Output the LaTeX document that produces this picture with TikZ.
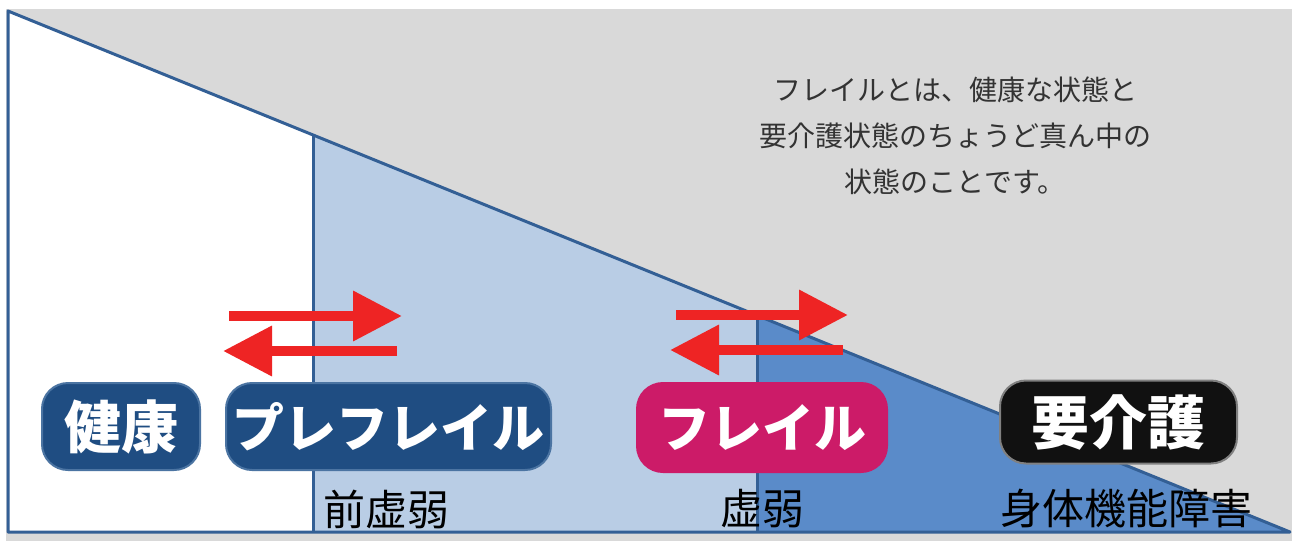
\documentclass[tikz,border=0pt]{standalone}
\usepackage{fontspec}
\usetikzlibrary{arrows.meta}
\newfontfamily\jp{Noto Sans CJK JP}
\definecolor{bggray}{HTML}{D9D9D9}
\definecolor{lightblue}{HTML}{B9CDE5}
\definecolor{midblue}{HTML}{5A8BC9}
\definecolor{edgeblue}{HTML}{335F95}
\definecolor{arrowred}{HTML}{EE2424}
\definecolor{navy}{HTML}{1F4D82}
\definecolor{navyedge}{HTML}{4B74A2}
\definecolor{magenta}{HTML}{CC1B68}
\definecolor{pillblack}{HTML}{111111}
\definecolor{txtgray}{HTML}{333333}
\tikzset{
  pill/.style={rounded corners=26pt, inner sep=0pt, text=white, line width=2pt,
    font=\jp\bfseries\fontsize{52}{52}\selectfont},
  arr/.style={draw=arrowred, line width=10pt, -{Triangle[length=49pt,width=48pt]}},
  sublabel/.style={anchor=west, inner sep=0pt, text=black, font=\jp\fontsize{42}{42}\selectfont},
  outline/.style={draw=edgeblue, line width=3pt, line join=round}
}
\begin{document}
\begin{tikzpicture}[x=1pt,y=-1pt]
\useasboundingbox (0,0) rectangle (1292,541);
\fill[white] (0,0) rectangle (1292,541);
\fill[bggray] (6,9) rectangle (1292,541);
% corner points
\coordinate (TL) at (8,11);
\coordinate (BL) at (8,532);
\coordinate (BR) at (1290,532);
\coordinate (P1) at (313,135);
\coordinate (P1b) at (313,532);
\coordinate (P2) at (757,315);
\coordinate (P2b) at (757,532);
% regions
\fill[white] (TL) -- (P1) -- (P1b) -- (BL) -- cycle;
\fill[lightblue] (P1) -- (P2) -- (P2b) -- (P1b) -- cycle;
\fill[midblue] (P2) -- (BR) -- (P2b) -- cycle;
% outlines
\draw[outline] (TL) -- (BR) -- (BL) -- cycle;
\draw[outline] (P1) -- (P1b);
\draw[outline] (P2) -- (P2b);
% top text
\node[align=center, text=txtgray, font=\jp\fontsize{28}{46}\selectfont] (desc) at (955,136)
  {フレイルとは、健康な状態と\\要介護状態のちょうど真ん中の\\状態のことです。};
% arrows
\coordinate (a1s) at (229,316); \coordinate (a1e) at (402,316);
\coordinate (a2s) at (397,351); \coordinate (a2e) at (223,351);
\coordinate (a3s) at (676,315); \coordinate (a3e) at (848,315);
\coordinate (a4s) at (843,350); \coordinate (a4e) at (670,350);
\draw[arr] (a1s) -- (a1e);
\draw[arr] (a2s) -- (a2e);
\draw[arr] (a3s) -- (a3e);
\draw[arr] (a4s) -- (a4e);
% pills
\node[pill, fill=navy, draw=navyedge, minimum width=158pt, minimum height=87pt,
  font=\jp\bfseries\fontsize{57}{57}\selectfont] (kenko) at (121,426.5) {健康};
\node[pill, fill=navy, draw=navyedge, minimum width=325pt, minimum height=87pt] (pre) at (388.5,426.5) {プレフレイル};
\node[pill, fill=magenta, draw=magenta, minimum width=250pt, minimum height=89pt] (frail) at (762,427.5) {フレイル};
\node[pill, fill=pillblack, draw=gray, minimum width=237pt, minimum height=83pt,
  font=\jp\bfseries\fontsize{58}{58}\selectfont] (kaigo) at (1118.5,422) {要介護};
% sub labels
\node[sublabel] (l1) at (323,509) {前虚弱};
\node[sublabel] (l2) at (720,509) {虚弱};
\node[sublabel] (l3) at (1000,509) {身体機能障害};
\end{tikzpicture}
\end{document}
